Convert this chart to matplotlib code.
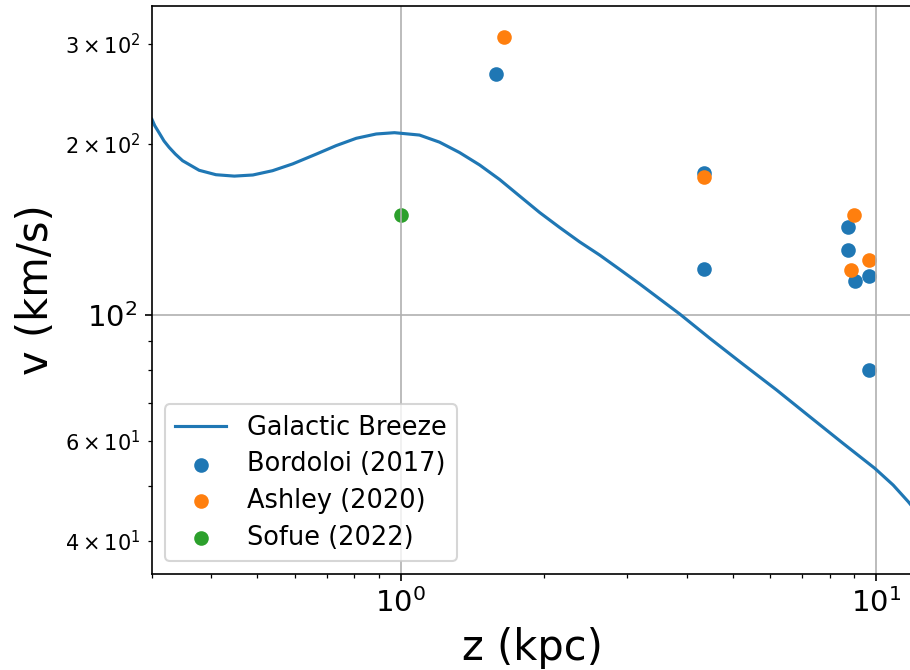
import matplotlib
matplotlib.use("Agg")
import matplotlib.pyplot as plt

# Galactic Breeze model curve
breeze_z = [0.300, 0.304, 0.311, 0.318, 0.326, 0.336, 0.348, 0.377, 0.409, 0.447,
            0.489, 0.538, 0.593, 0.664, 0.732, 0.807, 0.889, 0.971, 1.096, 1.208,
            1.331, 1.467, 1.616, 1.780, 1.962, 2.161, 2.381, 2.624, 2.891, 3.186,
            3.510, 3.867, 4.472, 5.255, 6.180, 7.262, 8.536, 9.950, 10.87, 11.70,
            12.0]
breeze_v = [221.0, 215.5, 208.9, 202.5, 197.3, 192.0, 186.9, 179.8, 176.6, 175.6,
            176.4, 179.5, 184.5, 191.9, 198.7, 204.7, 208.3, 209.4, 207.4, 201.5,
            193.2, 183.7, 173.2, 162.0, 151.5, 142.6, 134.5, 127.5, 120.3, 113.4,
            106.7, 100.4, 91.0, 81.9, 73.8, 66.2, 59.4, 53.7, 50.2, 46.9,
            45.7]

# observations
bordoloi_z = [1.59, 4.35, 4.35, 8.75, 8.75, 9.04, 9.65, 9.65]
bordoloi_v = [266, 178, 120.5, 143, 130, 115, 117, 80]

ashley_z = [1.65, 4.35, 9.0, 8.85, 9.67]
ashley_v = [308, 175, 150, 120, 125]

sofue_z = [1.0]
sofue_v = [150]

fig = plt.figure(figsize=(910 / 150, 670 / 150), dpi=150)
ax = fig.add_axes([0.167, 0.1433, 0.8369, 0.8478])

ax.plot(breeze_z, breeze_v, label='Galactic Breeze')
ax.scatter(bordoloi_z, bordoloi_v, label='Bordoloi (2017)')
ax.scatter(ashley_z, ashley_v, label='Ashley (2020)')
ax.scatter(sofue_z, sofue_v, label='Sofue (2022)')

ax.set_xscale('log')
ax.set_yscale('log')
ax.set_xlim(0.3, 12)
ax.set_ylim(35, 350)

ax.set_xlabel('z (kpc)', fontsize=20)
ax.set_ylabel('v (km/s)', fontsize=20)
ax.tick_params(axis='both', which='major', labelsize=14)
ax.grid(True)
ax.legend(loc='lower left', fontsize=12.3, labelspacing=0.42)

fig.savefig('out.png', dpi=150)
